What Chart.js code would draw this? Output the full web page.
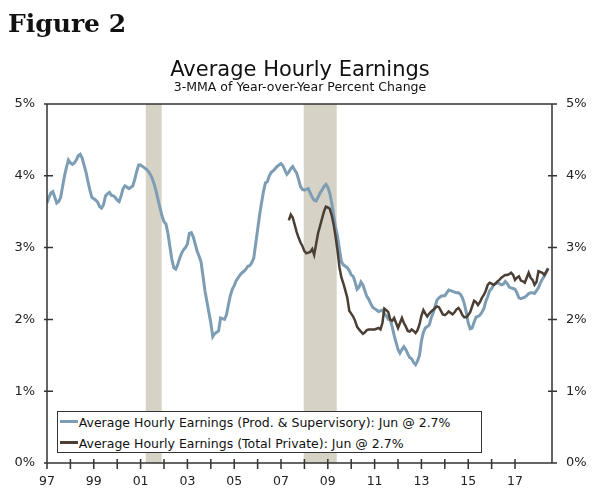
<!DOCTYPE html>
<html>
<head>
<meta charset="utf-8">
<script src="https://cdn.jsdelivr.net/npm/chart.js@4.4.1/dist/chart.umd.min.js"></script>
<style>
    body { margin: 0; background: #fff; }
    #wrap { position: relative; width: 600px; height: 494px; }
    #wrap > div { position: absolute; line-height: 1; color: #111; white-space: nowrap; }
    #fig { left: 8px; top: 10.5px; font: bold 25px "DejaVu Serif", serif; color: #000; }
    #title { left: 0; width: 600px; top: 59px; text-align: center; font: 21px "DejaVu Sans", sans-serif; }
    #sub { left: 0; width: 600px; top: 81px; text-align: center; font: 12.5px "DejaVu Sans", sans-serif; }
    #legend {
        left: 56.7px; top: 410.7px; width: 423.6px; height: 40.6px;
        border: 1.5px solid #333; background: #fff;
        font: 12.5px "DejaVu Sans", sans-serif; color: #222;
    }
    #legend .row { height: 21.6px; line-height: 21.6px; padding-left: 2px; }
    #legend .mark { display: inline-block; width: 18px; height: 3px; vertical-align: 4px; margin-right: 1px; }
</style>
</head>
<body>
<div id="wrap">
    <canvas id="earningsChart"></canvas>
    <div id="fig">Figure 2</div>
    <div id="title">Average Hourly Earnings</div>
    <div id="sub">3-MMA of Year-over-Year Percent Change</div>
    <div id="legend"></div>
</div>
<script>
// monthly values, 3-MMA of yoy % change
const prodStart = [1997, 0]; // Jan 1997
const prodValues = [
    3.62, 3.70, 3.76, 3.78, 3.70, 3.62, 3.64, 3.70, 3.85, 4.00, 4.12, 4.22,
    4.18, 4.16, 4.18, 4.22, 4.28, 4.30, 4.25, 4.15, 4.05, 3.92, 3.80, 3.70,
    3.68, 3.66, 3.63, 3.57, 3.55, 3.60, 3.72, 3.75, 3.77, 3.73, 3.72, 3.70,
    3.66, 3.64, 3.72, 3.82, 3.86, 3.84, 3.82, 3.84, 3.86, 3.95, 4.06, 4.15,
    4.15, 4.13, 4.11, 4.09, 4.06, 4.02, 3.96, 3.88, 3.78, 3.66, 3.55, 3.44,
    3.36, 3.33, 3.20, 3.02, 2.84, 2.72, 2.70, 2.76, 2.85, 2.92, 2.97, 3.00,
    3.05, 3.20, 3.21, 3.15, 3.05, 2.95, 2.88, 2.80, 2.60, 2.40, 2.25, 2.10,
    1.95, 1.76, 1.80, 1.82, 1.84, 2.02, 2.01, 2.00, 2.06, 2.20, 2.33, 2.42,
    2.47, 2.54, 2.58, 2.62, 2.65, 2.67, 2.70, 2.74, 2.75, 2.79, 2.85, 3.05,
    3.25, 3.45, 3.62, 3.78, 3.90, 3.92, 4.00, 4.05, 4.07, 4.10, 4.13, 4.15,
    4.17, 4.14, 4.08, 4.02, 4.05, 4.10, 4.13, 4.08, 4.04, 3.95, 3.85, 3.81,
    3.80, 3.81, 3.82, 3.76, 3.70, 3.66, 3.65, 3.70, 3.76, 3.80, 3.85, 3.88,
    3.84, 3.76, 3.62, 3.45, 3.28, 3.15, 2.97, 2.80, 2.76, 2.74, 2.72, 2.68,
    2.62, 2.60, 2.52, 2.42, 2.45, 2.52, 2.48, 2.40, 2.32, 2.28, 2.22, 2.17,
    2.15, 2.13, 2.11, 2.12, 2.13, 2.08, 2.05, 2.00, 1.99, 1.90, 1.78, 1.68,
    1.58, 1.53, 1.58, 1.62, 1.58, 1.52, 1.47, 1.45, 1.40, 1.37, 1.42, 1.50,
    1.70, 1.82, 1.88, 1.90, 1.92, 2.02, 2.09, 2.18, 2.27, 2.30, 2.32, 2.33,
    2.33, 2.37, 2.41, 2.40, 2.39, 2.38, 2.37, 2.37, 2.35, 2.30, 2.22, 2.10,
    1.95, 1.87, 1.88, 1.96, 2.03, 2.04, 2.06, 2.10, 2.15, 2.25, 2.32, 2.40,
    2.43, 2.48, 2.50, 2.51, 2.50, 2.48, 2.49, 2.53, 2.50, 2.45, 2.44, 2.43,
    2.42, 2.37, 2.30, 2.29, 2.30, 2.31, 2.33, 2.36, 2.37, 2.37, 2.36, 2.40,
    2.44, 2.51, 2.56, 2.60, 2.66, 2.71,
];

const privStart = [2007, 4]; // May 2007
const privValues = [
    3.38, 3.46, 3.42, 3.32, 3.22, 3.14, 3.07, 3.02,
    2.95, 2.92, 2.93, 2.94, 2.98, 2.90, 3.05, 3.20, 3.30, 3.40, 3.50, 3.57,
    3.56, 3.54, 3.45, 3.32, 3.15, 2.95, 2.72, 2.58, 2.50, 2.40, 2.30, 2.12,
    2.08, 2.04, 1.98, 1.90, 1.86, 1.83, 1.80, 1.82, 1.85, 1.86, 1.86, 1.86,
    1.86, 1.87, 1.88, 1.86, 1.95, 2.15, 2.13, 2.10, 2.00, 1.98, 2.02, 1.95,
    1.88, 1.95, 2.02, 1.95, 1.90, 1.84, 1.83, 1.86, 1.84, 1.81, 1.85, 1.93,
    2.05, 2.13, 2.08, 2.04, 2.08, 2.11, 2.13, 2.16, 2.18, 2.17, 2.12, 2.07,
    2.06, 2.08, 2.11, 2.09, 2.07, 2.10, 2.14, 2.16, 2.12, 2.06, 2.03, 2.03,
    2.06, 2.10, 2.18, 2.26, 2.24, 2.20, 2.24, 2.30, 2.34, 2.40, 2.48, 2.51,
    2.50, 2.48, 2.50, 2.53, 2.55, 2.58, 2.60, 2.62, 2.62, 2.63, 2.65, 2.62,
    2.55, 2.58, 2.60, 2.54, 2.53, 2.51, 2.58, 2.65, 2.58, 2.55, 2.48, 2.52,
    2.67, 2.66, 2.65, 2.62, 2.66, 2.71,
];

const seriesLabels = [
    "Average Hourly Earnings (Prod. & Supervisory): Jun @ 2.7%",
    "Average Hourly Earnings (Total Private): Jun @ 2.7%",
];
const seriesColors = ["#7d9db4", "#4b3e34"];

// recessions, as decimal years
const recessions = [
    [2001.22, 2001.9],
    [2007.97, 2009.38],
];

const yTicks = [0, 1, 2, 3, 4, 5];
const xMin = 1997;
const xMax = 2018.58;

function toPoints(start, values) {
    return values.map((v, i) => ({ x: start[0] + (start[1] + i) / 12, y: v }));
}

const axisColor = "#333";

const frameAndBands = {
    id: "frameAndBands",
    beforeDatasetsDraw(chart) {
        const { ctx, chartArea: a, scales } = chart;
        ctx.save();
        ctx.fillStyle = "#d7d2c6";
        recessions.forEach(([s, e]) => {
            const x1 = scales.x.getPixelForValue(s);
            const x2 = scales.x.getPixelForValue(e);
            ctx.fillRect(x1, a.top, x2 - x1, a.bottom - a.top);
        });
        ctx.restore();
    },
    afterDraw(chart) {
        const { ctx, chartArea: a, scales } = chart;
        ctx.save();
        ctx.strokeStyle = axisColor;
        ctx.lineWidth = 1.5;
        ctx.beginPath();
        // frame
        ctx.moveTo(a.left, a.top);
        ctx.lineTo(a.right, a.top);
        ctx.moveTo(a.left, a.top);
        ctx.lineTo(a.left, a.bottom);
        ctx.moveTo(a.right, a.top);
        ctx.lineTo(a.right, a.bottom);
        ctx.moveTo(a.left, a.bottom);
        ctx.lineTo(a.right, a.bottom);
        // tick marks crossing the axes
        scales.x.ticks.forEach((t) => {
            const px = scales.x.getPixelForValue(t.value);
            ctx.moveTo(px, a.bottom - 4);
            ctx.lineTo(px, a.bottom + 6);
        });
        scales.y.ticks.forEach((t) => {
            const py = scales.y.getPixelForValue(t.value);
            ctx.moveTo(a.left - 3, py);
            ctx.lineTo(a.left + 6, py);
            ctx.moveTo(a.right - 4, py);
            ctx.lineTo(a.right + 5, py);
        });
        ctx.stroke();
        ctx.restore();
    },
};

const tickFont = { family: "'DejaVu Sans', sans-serif", size: 13 };

const chart = new Chart(document.getElementById("earningsChart"), {
    type: "line",
    data: {
        datasets: [
            {
                label: seriesLabels[0],
                data: toPoints(prodStart, prodValues),
                borderColor: seriesColors[0],
                borderWidth: 3,
                pointRadius: 0,
                order: 1,
            },
            {
                label: seriesLabels[1],
                data: toPoints(privStart, privValues),
                borderColor: seriesColors[1],
                borderWidth: 2.5,
                pointRadius: 0,
                order: 0,
            },
        ],
    },
    options: {
        responsive: true,
        maintainAspectRatio: false,
        animation: false,
        layout: { padding: { top: 104, left: 0, right: 0, bottom: 0 } },
        plugins: {
            legend: { display: false },
            tooltip: { enabled: false },
        },
        scales: {
            x: {
                type: "linear",
                min: xMin,
                max: xMax,
                grid: { display: false, drawTicks: false },
                border: { display: false },
                afterBuildTicks: (s) => {
                    s.ticks = s.ticks.filter((t) => Number.isInteger(t.value));
                },
                afterFit: (s) => { s.height = 31; },
                ticks: {
                    stepSize: 1,
                    autoSkip: false,
                    maxRotation: 0,
                    padding: 11,
                    color: "#222",
                    font: { family: "'DejaVu Sans', sans-serif", size: 12.5 },
                    callback: (v) => (v % 2 === 1 ? String(v).slice(2) : ""),
                },
            },
            y: {
                position: "left",
                min: 0,
                max: 5,
                grid: { display: false, drawTicks: false },
                border: { display: false },
                afterFit: (s) => { s.width = 47; },
                afterBuildTicks: (s) => { s.ticks = yTicks.map((v) => ({ value: v })); },
                ticks: {
                    padding: 12,
                    color: "#222",
                    font: tickFont,
                    callback: (v) => v + "%",
                },
            },
            y2: {
                position: "right",
                min: 0,
                max: 5,
                grid: { display: false, drawTicks: false },
                border: { display: false },
                afterFit: (s) => { s.width = 48; },
                afterBuildTicks: (s) => { s.ticks = yTicks.map((v) => ({ value: v })); },
                ticks: {
                    padding: 14,
                    color: "#222",
                    font: tickFont,
                    callback: (v) => v + "%",
                },
            },
        },
    },
    plugins: [frameAndBands],
});

// legend box inside the plot
const legendEl = document.getElementById("legend");
chart.data.datasets.forEach((ds) => {
    const row = document.createElement("div");
    row.className = "row";
    const mark = document.createElement("span");
    mark.className = "mark";
    mark.style.background = ds.borderColor;
    row.appendChild(mark);
    row.appendChild(document.createTextNode(ds.label));
    legendEl.appendChild(row);
});
</script>
</body>
</html>
